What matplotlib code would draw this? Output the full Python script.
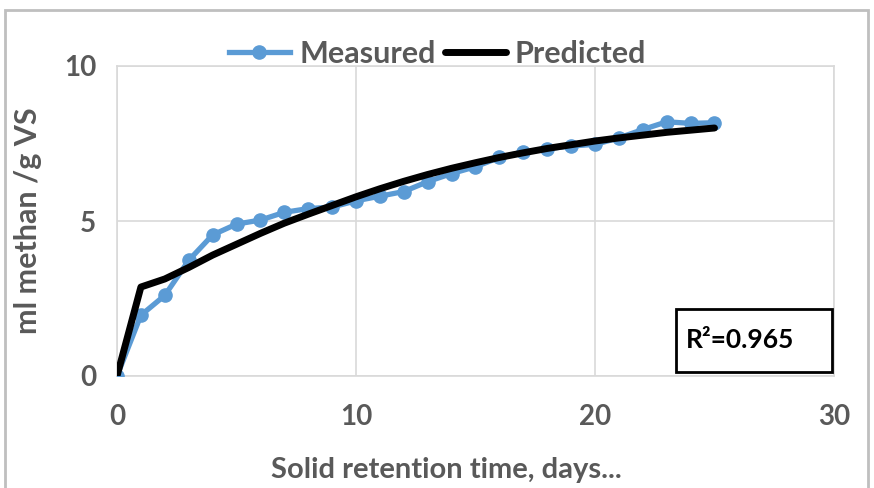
import matplotlib.pyplot as plt
from matplotlib.patches import Rectangle

days = list(range(26))
measured = [0, 1.96, 2.6, 3.73, 4.55, 4.9, 5.03, 5.28, 5.4, 5.45, 5.65, 5.8,
            5.95, 6.27, 6.53, 6.75, 7.05, 7.22, 7.33, 7.42, 7.47, 7.68, 7.95,
            8.2, 8.15, 8.17]
predicted = [0, 2.87, 3.13, 3.5, 3.9, 4.25, 4.6, 4.93, 5.22, 5.5, 5.78, 6.04,
             6.28, 6.5, 6.7, 6.88, 7.05, 7.2, 7.34, 7.46, 7.58, 7.68, 7.77,
             7.86, 7.93, 8.0]

plt.rcParams['font.family'] = ['Lato', 'DejaVu Sans']
grey = '#595959'

fig = plt.figure(figsize=(8.74, 4.88), dpi=100)
ax = fig.add_axes([117/874, 1-376/488, (834-117)/874, (376-66)/488])

ax.plot(days, measured, color='#5B9BD5', lw=3.8, marker='o', ms=9.5,
        label='Measured', zorder=3)
ax.plot(days, predicted, color='black', lw=5, solid_capstyle='round',
        label='Predicted', zorder=4)

ax.set_xlim(0, 30)
ax.set_ylim(0, 10)
ax.set_xticks([0, 10, 20, 30])
ax.set_yticks([0, 5, 10])
ax.grid(True, color='#d9d9d9', lw=1.2)
ax.set_axisbelow(True)
for s in ax.spines.values():
    s.set_color('#d9d9d9')
    s.set_linewidth(1.2)
ax.tick_params(length=0, labelsize=20, labelcolor=grey)
ax.tick_params(axis='x', pad=20)
ax.tick_params(axis='y', pad=15)
for t in ax.get_xticklabels() + ax.get_yticklabels():
    t.set_fontweight('bold')

ax.set_xlabel('Solid retention time, days...', fontsize=21, fontweight='bold',
              color=grey)
ax.xaxis.set_label_coords(0.46, -0.26)
ax.set_ylabel('ml methan /g VS', fontsize=22, fontweight='bold',
              color=grey, labelpad=16)

leg = ax.legend(loc='lower center', bbox_to_anchor=(0.447, 0.955), ncol=2,
                frameon=False, fontsize=22, handlelength=2.0, columnspacing=0.3,
                handletextpad=0.3, borderaxespad=0, numpoints=1)
for t in leg.get_texts():
    t.set_color(grey)
    t.set_fontweight('bold')

ax.add_patch(Rectangle((0.78, 0.013), 0.217, 0.203, transform=ax.transAxes,
                       fc='white', ec='black', lw=2, zorder=6))
ax.text(0.794, 0.116, 'R²=0.965', transform=ax.transAxes, fontsize=19,
        fontweight='bold', va='center', ha='left', zorder=7)

fig.patches.append(Rectangle((5/874, -0.01), (868-5)/874, 1-10/488+0.01,
                             transform=fig.transFigure, fill=False,
                             ec='#bfbfbf', lw=2))

fig.savefig('out.png', dpi=100)
